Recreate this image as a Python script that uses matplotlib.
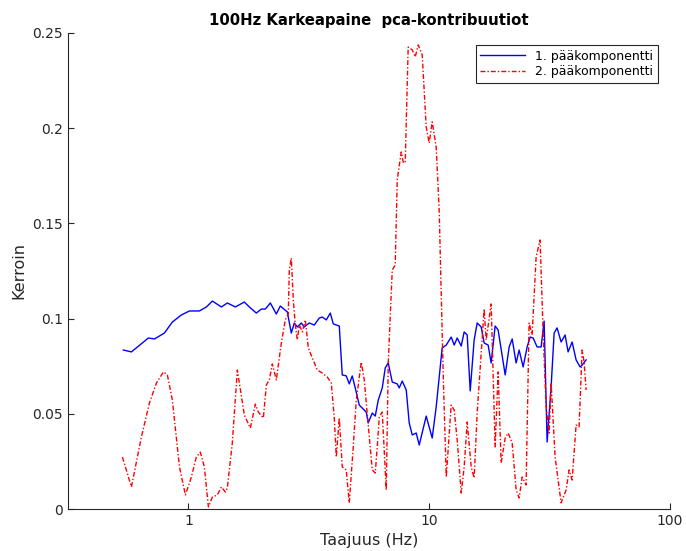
import numpy as np
import matplotlib
matplotlib.use('Agg')
import matplotlib.pyplot as plt
from matplotlib.ticker import FixedLocator, FuncFormatter, NullLocator

# 1. paakomponentti (blue, solid)
f1 = [0.537, 0.580, 0.682, 0.723, 0.795, 0.858, 0.935, 1.010, 1.111, 1.188,
      1.258, 1.371, 1.451, 1.567, 1.707, 1.791, 1.915, 2.009, 2.087, 2.189,
      2.318, 2.408, 2.575, 2.675, 2.753, 2.834, 2.944, 3.029, 3.177, 3.333,
      3.496, 3.597, 3.738, 3.884, 3.997, 4.232, 4.355, 4.525, 4.656, 4.791,
      4.931, 5.123, 5.478, 5.583, 5.801, 5.970, 6.144, 6.383, 6.569, 6.760,
      7.023, 7.366, 7.508, 7.727, 8.028, 8.260, 8.502, 8.833, 9.090, 9.718,
      10.29, 10.69, 11.32, 11.77, 12.34, 12.70, 13.07, 13.58, 13.97, 14.38,
      14.80, 15.37, 15.82, 16.44, 16.91, 17.57, 18.08, 18.79, 19.33, 20.68,
      21.48, 22.11, 22.96, 23.63, 24.55, 25.51, 26.25, 27.02, 28.06, 29.16,
      30.01, 30.88, 32.08, 33.02, 33.97, 35.30, 36.67, 37.74, 39.22, 40.74,
      42.33, 43.15, 44.83]
k1 = [0.0835, 0.0825, 0.0898, 0.0893, 0.0924, 0.0982, 0.1019, 0.1040, 0.1040, 0.1061,
      0.1092, 0.1061, 0.1082, 0.1061, 0.1087, 0.1061, 0.1029, 0.1050, 0.1050, 0.1082,
      0.1024, 0.1066, 0.1035, 0.0924, 0.0977, 0.0956, 0.0977, 0.0956, 0.0977, 0.0966,
      0.1003, 0.1008, 0.0993, 0.1029, 0.0972, 0.0961, 0.0704, 0.0699, 0.0657, 0.0699,
      0.0636, 0.0546, 0.0509, 0.0452, 0.0504, 0.0488, 0.0572, 0.0636, 0.0741, 0.0767,
      0.0667, 0.0657, 0.0636, 0.0672, 0.0625, 0.0452, 0.0389, 0.0399, 0.0336, 0.0488,
      0.0373, 0.0536, 0.0846, 0.0861, 0.0903, 0.0861, 0.0898, 0.0856, 0.0930, 0.0914,
      0.0620, 0.0888, 0.0977, 0.0956, 0.0872, 0.0861, 0.0767, 0.0961, 0.0940, 0.0704,
      0.0851, 0.0893, 0.0767, 0.0835, 0.0746, 0.0851, 0.0903, 0.0898, 0.0851, 0.0851,
      0.0987, 0.0352, 0.0641, 0.0924, 0.0951, 0.0877, 0.0914, 0.0825, 0.0877, 0.0783,
      0.0746, 0.0756, 0.0783]

# 2. paakomponentti (red, dash-dot)
f2 = [0.532, 0.580, 0.638, 0.689, 0.737, 0.788, 0.818, 0.858, 0.918, 0.972,
      1.029, 1.079, 1.121, 1.165, 1.211, 1.258, 1.319, 1.371, 1.424, 1.451,
      1.522, 1.597, 1.707, 1.808, 1.897, 1.952, 2.048, 2.107, 2.168, 2.231,
      2.318, 2.432, 2.526, 2.599, 2.624, 2.675, 2.727, 2.780, 2.834, 2.888,
      2.972, 3.059, 3.148, 3.270, 3.430, 3.597, 3.774, 3.921, 4.035, 4.113,
      4.232, 4.355, 4.525, 4.656, 4.837, 4.979, 5.223, 5.374, 5.583, 5.801,
      5.970, 6.085, 6.202, 6.383, 6.632, 6.760, 7.023, 7.226, 7.366, 7.652,
      7.800, 7.950, 8.180, 8.502, 8.748, 9.003, 9.354, 9.718, 10.00, 10.29,
      10.69, 11.00, 11.43, 11.77, 12.34, 12.70, 13.07, 13.58, 13.97, 14.38,
      14.94, 15.37, 15.82, 16.44, 16.91, 17.24, 18.08, 18.79, 19.33, 19.89,
      20.68, 21.27, 22.11, 22.96, 23.63, 24.32, 25.26, 25.99, 26.75, 27.80,
      28.87, 29.72, 30.59, 31.48, 32.08, 33.33, 35.30, 37.03, 38.10, 39.22,
      40.74, 41.92, 43.15, 43.98, 44.83]
k2 = [0.0273, 0.0116, 0.0378, 0.0557, 0.0662, 0.0720, 0.0704, 0.0572, 0.0221, 0.0074,
      0.0168, 0.0273, 0.0299, 0.0221, 0.0011, 0.0063, 0.0074, 0.0116, 0.0089, 0.0110,
      0.0347, 0.0730, 0.0494, 0.0425, 0.0551, 0.0509, 0.0478, 0.0651, 0.0678, 0.0762,
      0.0678, 0.0872, 0.0993, 0.1024, 0.1255, 0.1318, 0.1098, 0.0966, 0.0888, 0.0966,
      0.0930, 0.0993, 0.0846, 0.0793, 0.0730, 0.0714, 0.0693, 0.0662, 0.0478, 0.0273,
      0.0478, 0.0221, 0.0205, 0.0032, 0.0326, 0.0572, 0.0772, 0.0678, 0.0441, 0.0205,
      0.0189, 0.0326, 0.0483, 0.0509, 0.0100, 0.0767, 0.1255, 0.1282, 0.1728, 0.1875,
      0.1822, 0.1817, 0.2426, 0.2411, 0.2374, 0.2437, 0.2384, 0.2006, 0.1922, 0.2033,
      0.1901, 0.1570, 0.0714, 0.0168, 0.0546, 0.0520, 0.0362, 0.0084, 0.0221, 0.0457,
      0.0221, 0.0163, 0.0504, 0.0819, 0.1050, 0.0888, 0.1077, 0.0326, 0.0720, 0.0242,
      0.0373, 0.0399, 0.0347, 0.0100, 0.0058, 0.0168, 0.0126, 0.0977, 0.0914, 0.1324,
      0.1413, 0.0930, 0.0536, 0.0399, 0.0662, 0.0273, 0.0032, 0.0100, 0.0205, 0.0152,
      0.0441, 0.0431, 0.0835, 0.0772, 0.0625]

x_ticks = [1, 10, 100]
y_ticks = [0, 0.05, 0.1, 0.15, 0.2, 0.25]

fig = plt.figure(figsize=(6.86, 5.51), dpi=100)
ax = fig.add_axes([0.0991, 0.0762, 0.8776, 0.8640])

ax.plot(f1, k1, color='#0000ff', linewidth=1.0, label='1. pääkomponentti')
ax.plot(f2, k2, color='#ff0000', linestyle='-.', dashes=[3.5, 1.5, 1.0, 1.5],
        linewidth=1.0, label='2. pääkomponentti')

ax.set_xscale('log')
ax.set_xlim(10 ** -0.5, 100)
ax.set_ylim(0, 0.25)
ax.xaxis.set_major_locator(FixedLocator(x_ticks))
ax.xaxis.set_minor_locator(NullLocator())
ax.xaxis.set_major_formatter(FuncFormatter(lambda v, p: '%g' % v))
ax.set_yticks(y_ticks)
ax.yaxis.set_major_formatter(FuncFormatter(lambda v, p: '%g' % v))

ax.spines['top'].set_visible(False)
ax.spines['right'].set_visible(False)
for s in ['left', 'bottom']:
    ax.spines[s].set_linewidth(0.8)
    ax.spines[s].set_color('#262626')
ax.tick_params(direction='in', length=4, labelsize=10, colors='#262626')

ax.set_title('100Hz Karkeapaine  pca-kontribuutiot', fontsize=10.7, fontweight='bold')
ax.set_xlabel('Taajuus (Hz)', fontsize=11.5, color='#262626')
ax.set_ylabel('Kerroin', fontsize=11.5, color='#262626')

leg = ax.legend(loc='upper right', fontsize=9, fancybox=False, framealpha=1,
                edgecolor='#262626', borderaxespad=1.0, handlelength=3.6,
                borderpad=0.35, labelspacing=0.2)
leg.get_frame().set_linewidth(0.8)

fig.savefig('out.png', dpi=100)
